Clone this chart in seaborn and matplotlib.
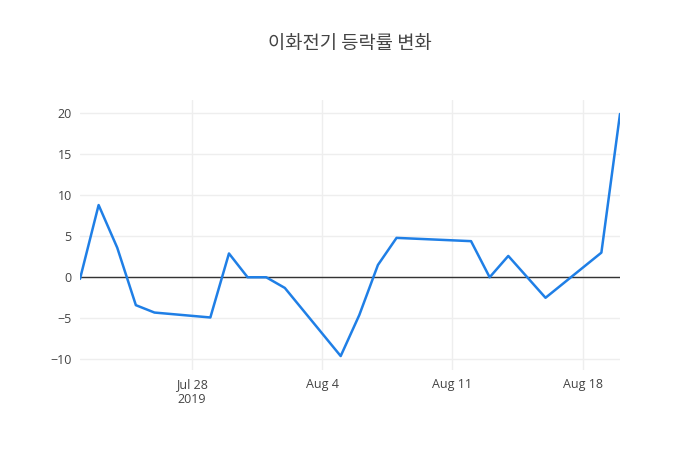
import matplotlib
matplotlib.use("Agg")
import matplotlib.pyplot as plt
import matplotlib.dates as mdates
import seaborn as sns
import pandas as pd

dates = ["2019-07-22", "2019-07-23", "2019-07-24", "2019-07-25", "2019-07-26",
         "2019-07-29", "2019-07-30", "2019-07-31", "2019-08-01", "2019-08-02",
         "2019-08-05", "2019-08-06", "2019-08-07", "2019-08-08", "2019-08-12",
         "2019-08-13", "2019-08-14", "2019-08-16", "2019-08-19", "2019-08-20"]
changes = [-0.2, 8.8, 3.6, -3.4, -4.3,
           -4.9, 2.9, 0.0, 0.0, -1.3,
           -9.6, -4.6, 1.5, 4.8, 4.4,
           0.0, 2.6, -2.5, 3.0, 19.9]
yticks = [-10, -5, 0, 5, 10, 15, 20]
xtick_dates = ["2019-07-28", "2019-08-04", "2019-08-11", "2019-08-18"]
xtick_labels = ["Jul 28\n2019", "Aug 4", "Aug 11", "Aug 18"]
title = "이화전기 등락률 변화"

df = pd.DataFrame({"date": pd.to_datetime(dates), "change": changes})

sns.set_theme(style="white")
plt.rcParams['font.family'] = ['Open Sans', 'Noto Sans CJK KR', 'DejaVu Sans']

fig = plt.figure(figsize=(7, 4.5), dpi=100)
ax = fig.add_axes([80/700, 80/450, 540/700, 270/450])

sns.lineplot(data=df, x="date", y="change", ax=ax, color="#1f7fe6", linewidth=1.8)

ax.set_xlim(df["date"].min(), df["date"].max())
ax.set_ylim(-11.3, 21.6)
ax.set_yticks(yticks)
ax.set_xticks(pd.to_datetime(xtick_dates))
ax.set_xticklabels(xtick_labels)
ax.grid(True, color="#eeeeee", linewidth=1)
ax.set_axisbelow(True)
ax.axhline(0, color="#333333", linewidth=1, zorder=1.5)
for s in ax.spines.values():
    s.set_visible(False)
ax.tick_params(axis="both", length=0, labelsize=9, colors="#444444", pad=6)
ax.set_xlabel("")
ax.set_ylabel("")

fig.text(0.5, 1 - 43/450, title, ha="center", va="center", fontsize=13.5,
         color="#444444", family=['Noto Sans CJK KR', 'DejaVu Sans'])

fig.savefig("out.png", dpi=100)
